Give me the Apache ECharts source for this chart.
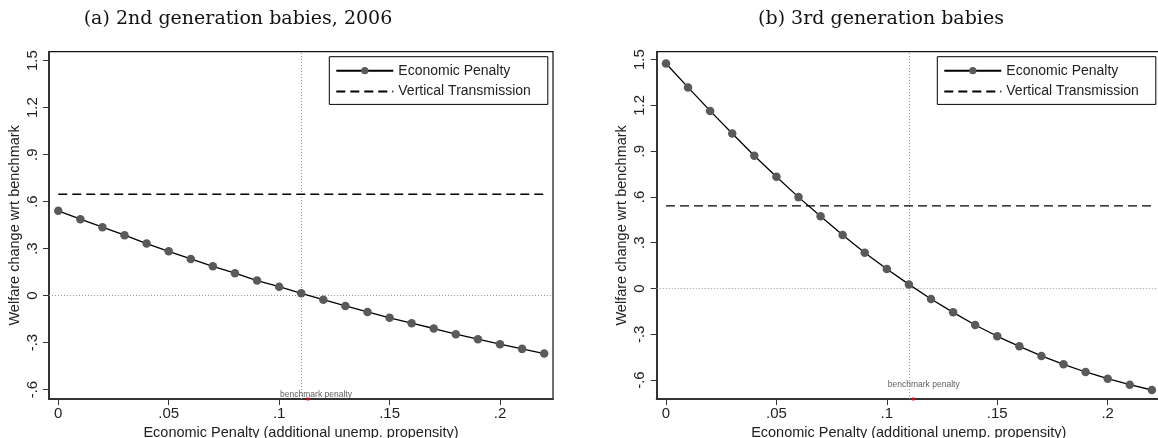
<!DOCTYPE html>
<html>
<head>
<meta charset="utf-8">
<script src="https://cdn.jsdelivr.net/npm/echarts@6/dist/echarts.min.js"></script>
<style>
  html, body { margin: 0; padding: 0; background: #fff; }
  #chart { width: 1158px; height: 438px; }
</style>
</head>
<body>
<div id="chart"></div>
<script>
// ---- data ----
const panelTitles = ['(a) 2nd generation babies, 2006', '(b) 3rd generation babies'];
const seriesNames = ['Economic Penalty', 'Vertical Transmission'];
const xAxisTitle = 'Economic Penalty (additional unemp. propensity)';
const yAxisTitle = 'Welfare change wrt benchmark';
const benchmarkLabel = 'benchmark penalty';

const penaltyValues = [0, 0.01, 0.02, 0.03, 0.04, 0.05, 0.06, 0.07, 0.08, 0.09, 0.10, 0.11,
                       0.12, 0.13, 0.14, 0.15, 0.16, 0.17, 0.18, 0.19, 0.20, 0.21, 0.22];
const welfareA = [0.541, 0.488, 0.437, 0.386, 0.332, 0.283, 0.234, 0.187, 0.143, 0.096, 0.057, 0.015,
                  -0.026, -0.066, -0.104, -0.142, -0.176, -0.210, -0.246, -0.278, -0.310, -0.340, -0.370];
const welfareB = [1.475, 1.318, 1.164, 1.016, 0.870, 0.732, 0.599, 0.473, 0.350, 0.235, 0.128, 0.027,
                  -0.069, -0.156, -0.239, -0.313, -0.379, -0.442, -0.497, -0.547, -0.591, -0.630, -0.665];
const verticalA = 0.647;
const verticalB = 0.542;
const benchmarkPenalty = [0.113, 0.112];
const benchmarkTextPos = [0.1167, -0.63];

const xTicks = [0, 0.05, 0.1, 0.15, 0.2];
const xTickLabels = ['0', '.05', '.1', '.15', '.2'];
const yTicks = [-0.6, -0.3, 0, 0.3, 0.6, 0.9, 1.2, 1.5];
const yTickLabels = ['-.6', '-.3', '0', '.3', '.6', '.9', '1.2', '1.5'];

const xRange = [-0.0042, 0.224];
const yRangeA = [-0.66, 1.557];
const yRangeB = [-0.724, 1.552];

// ---- chart ----
const FONT = '"Liberation Sans", Arial, Helvetica, sans-serif';
const chart = echarts.init(document.getElementById('chart'), null, { renderer: 'canvas' });

function lookup(ticks, labels) {
  return function (v) {
    for (let i = 0; i < ticks.length; i++) {
      if (Math.abs(ticks[i] - v) < 1e-6) return labels[i];
    }
    return '';
  };
}

const grids = [
  { left: 49, top: 51.7, width: 504, height: 347.3 },
  { left: 656.7, top: 51.7, width: 504, height: 347.3 }
];

function xAxisFor(i) {
  return {
    type: 'value', gridIndex: i, min: xRange[0], max: xRange[1],
    name: xAxisTitle, nameLocation: 'middle', nameGap: 22,
    nameTextStyle: { fontFamily: FONT, fontSize: 14.5, color: '#222' },
    splitLine: { show: false },
    axisLine: { show: true, onZero: false, lineStyle: { color: '#333', width: 2 } },
    axisTick: { show: true, length: 6, customValues: xTicks, lineStyle: { color: '#333', width: 1 } },
    axisLabel: { show: true, margin: 7, customValues: xTicks, formatter: lookup(xTicks, xTickLabels),
                 fontFamily: FONT, fontSize: 15, color: '#222' }
  };
}
function yAxisFor(i, range) {
  return {
    type: 'value', gridIndex: i, min: range[0], max: range[1],
    name: yAxisTitle, nameLocation: 'middle', nameGap: 27,
    nameTextStyle: { fontFamily: FONT, fontSize: 14.5, color: '#222' },
    splitLine: { show: false },
    axisLine: { show: true, onZero: false, lineStyle: { color: '#333', width: 2 } },
    axisTick: { show: true, length: 6, customValues: yTicks, lineStyle: { color: '#333', width: 1 } },
    axisLabel: { show: true, margin: 9, rotate: 90, customValues: yTicks, formatter: lookup(yTicks, yTickLabels),
                 fontFamily: FONT, fontSize: 15, color: '#222' }
  };
}

function panelSeries(i, welfare, vertical, yMin) {
  const pts = penaltyValues.map((x, k) => [x, welfare[k]]);
  const vt = [[penaltyValues[0], vertical], [penaltyValues[penaltyValues.length - 1], vertical]];
  return [
    {
      name: seriesNames[0], type: 'line', xAxisIndex: i, yAxisIndex: i,
      data: pts, symbol: 'circle', symbolSize: 8.5, showSymbol: true,
      itemStyle: { color: '#5a5a5a' },
      lineStyle: { color: '#000', width: 1.3 },
      z: 5, silent: true, animation: false,
      markLine: {
        silent: true, symbol: ['none', 'none'], label: { show: false },
        lineStyle: { color: '#9a9a9a', type: [1, 2], width: 1 },
        data: [{ yAxis: 0 }, { xAxis: benchmarkPenalty[i] }],
        animation: false, z: 1
      }
    },
    {
      name: seriesNames[1], type: 'line', xAxisIndex: i, yAxisIndex: i,
      data: vt, symbol: 'none', showSymbol: false,
      itemStyle: { color: 'rgba(0,0,0,0)' },
      lineStyle: { color: '#000', width: 1.3, type: [9, 5] },
      z: 4, silent: true, animation: false
    },
    {
      type: 'scatter', xAxisIndex: i, yAxisIndex: i,
      data: [[benchmarkTextPos[0], benchmarkTextPos[1]]],
      symbolSize: 0, silent: true, animation: false,
      label: { show: true, position: 'inside', formatter: benchmarkLabel,
               fontFamily: FONT, fontSize: 8.5, color: '#333' },
      z: 6
    },
    {
      type: 'scatter', xAxisIndex: i, yAxisIndex: i,
      data: [[benchmarkPenalty[i], yMin]],
      symbol: 'rect', symbolSize: [3, 3], itemStyle: { color: '#ff0000' },
      silent: true, animation: false, z: 10
    }
  ];
}

function legendFor(i, left) {
  return {
    show: true, orient: 'vertical', left: left, top: 56.7,
    data: seriesNames.map(n => ({ name: n })),
    itemWidth: 57, itemHeight: 9, itemGap: 6.7,
    padding: [7, 17, 6, 6],
    borderColor: '#000', borderWidth: 1, backgroundColor: '#fff',
    textStyle: { fontFamily: FONT, fontSize: 14, color: '#222' },
    selectedMode: false
  };
}

const option = {
  backgroundColor: '#fff',
  animation: false,
  title: [
    { text: panelTitles[0], left: 233, top: 5, textAlign: 'center',
      textStyle: { fontFamily: '"DejaVu Serif", serif', fontSize: 19, fontWeight: 'normal', color: '#111' } },
    { text: panelTitles[1], left: 876, top: 5, textAlign: 'center',
      textStyle: { fontFamily: '"DejaVu Serif", serif', fontSize: 19, fontWeight: 'normal', color: '#111' } }
  ],
  grid: grids.map(g => Object.assign({ show: true, borderColor: '#111', borderWidth: 1.2,
                                       backgroundColor: 'transparent', containLabel: false,
                                       outerBoundsMode: 'none' }, g)),
  xAxis: [xAxisFor(0), xAxisFor(1)],
  yAxis: [yAxisFor(0, yRangeA), yAxisFor(1, yRangeB)],
  legend: [legendFor(0, 329.3), legendFor(1, 937.3)],
  series: [].concat(
    panelSeries(0, welfareA, verticalA, yRangeA[0]),
    panelSeries(1, welfareB, verticalB, yRangeB[0])
  )
};
chart.setOption(option);
</script>
</body>
</html>
